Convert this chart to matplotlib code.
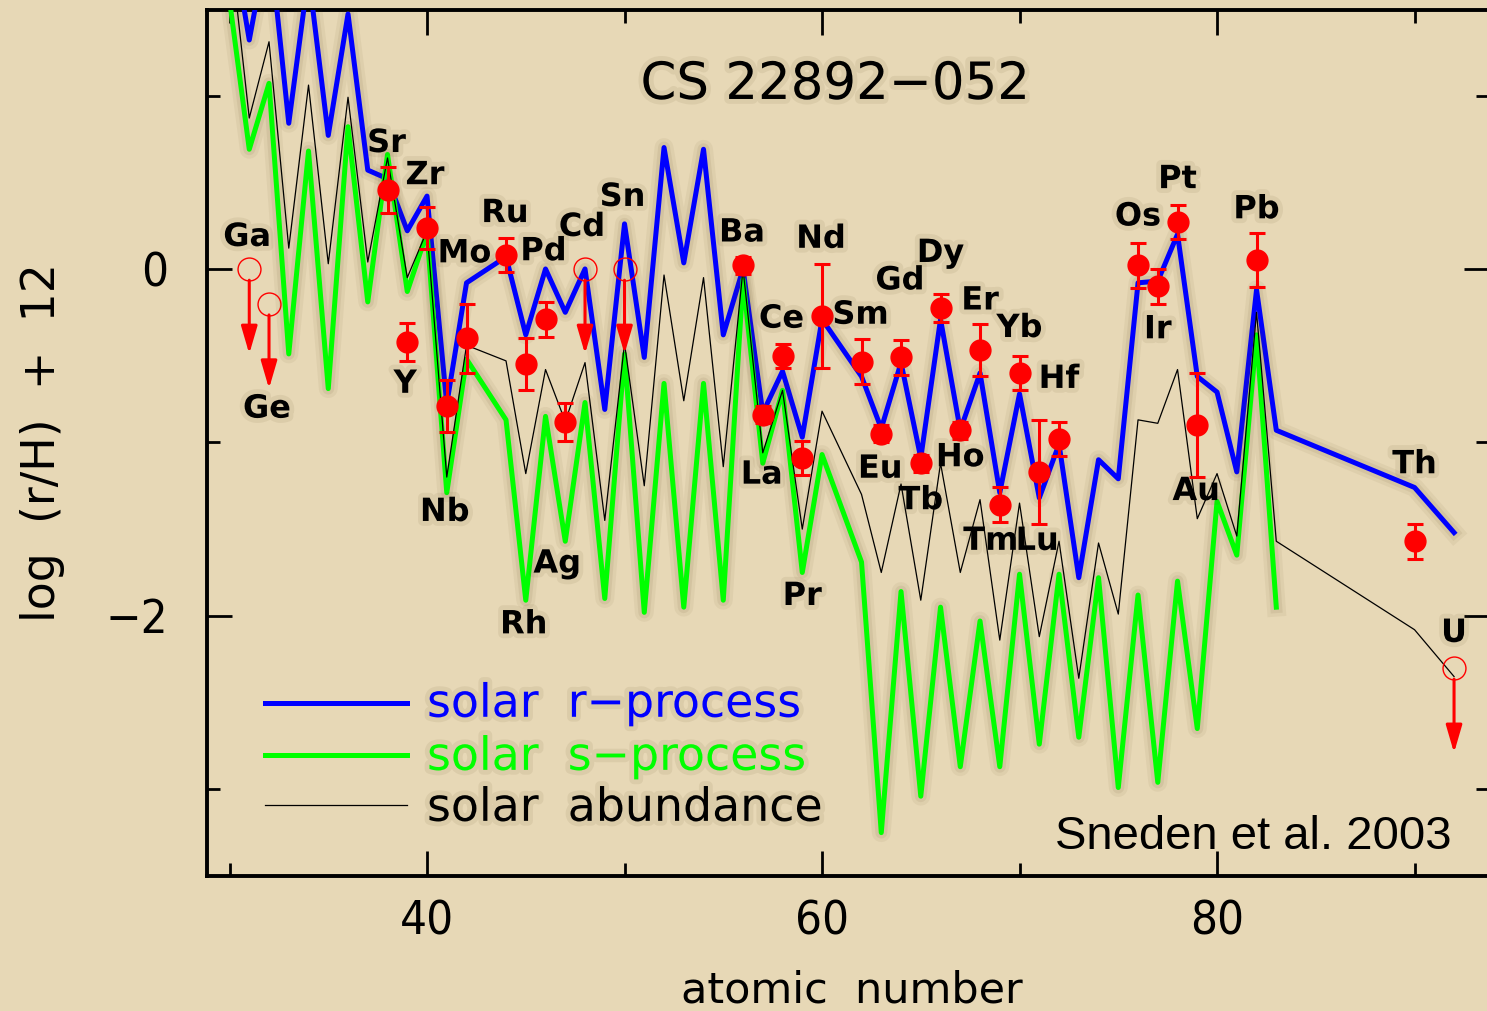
import matplotlib
matplotlib.use('Agg')
import matplotlib.pyplot as plt
import matplotlib.patheffects as pe
from matplotlib.ticker import MultipleLocator

# atomic numbers of the solar curves (Tc and Pm are skipped)
r_z = list(range(30, 43)) + list(range(44, 61)) + list(range(62, 84)) + [90, 92]
s_z = list(range(30, 43)) + list(range(44, 61)) + list(range(62, 84))

# solar r-process (blue)
r_val = [2.0, 1.32, 1.93, 0.84, 1.7, 0.77, 1.47, 0.57, 0.52, 0.22, 0.42, -0.78, -0.08,
         0.07, -0.38, 0.0, -0.25, 0.0, -0.81, 0.26, -0.51, 0.70, 0.035, 0.69, -0.38, 0.0,
         -0.83, -0.59, -0.97, -0.29,
         -0.62, -0.92, -0.54, -1.09, -0.29, -0.93, -0.60, -1.29, -0.72, -1.32, -1.01, -1.78,
         -1.10, -1.21, -0.08, -0.07, 0.20, -0.62, -0.71, -1.17, -0.12, -0.93,
         -1.26, -1.52]

# solar s-process (green)
s_val = [1.55, 0.69, 1.07, -0.49, 0.68, -0.69, 0.82, -0.19, 0.66, -0.13, 0.21, -1.29, -0.52,
         -0.87, -1.91, -0.85, -1.57, -0.77, -1.90, -0.49, -1.98, -0.66, -1.95, -0.66, -1.91,
         -0.06, -1.12, -0.70, -1.75, -1.07,
         -1.69, -3.25, -1.86, -3.04, -1.95, -2.87, -2.03, -2.87, -1.76, -2.74, -1.76, -2.70,
         -1.78, -2.99, -1.88, -2.96, -1.80, -2.65, -1.34, -1.65, -0.38, -1.95]

# total solar abundance (thin black)
sol_val = [1.90, 0.87, 1.31, 0.12, 1.06, 0.03, 0.99, 0.04, 0.64, -0.05, 0.22, -1.20, -0.44,
           -0.53, -1.18, -0.58, -0.88, -0.54, -1.45, -0.43, -1.25, -0.035, -0.76, -0.05, -1.14,
           0.0, -1.06, -0.70, -1.50, -0.82,
           -1.30, -1.75, -1.24, -1.91, -1.12, -1.75, -1.33, -2.14, -1.35, -2.12, -1.57, -2.36,
           -1.58, -1.99, -0.87, -0.89, -0.58, -1.44, -1.18, -1.54, -0.25, -1.57,
           -2.08, -2.35]

# CS 22892-052 measurements
obs_el = ['Sr', 'Y', 'Zr', 'Nb', 'Mo', 'Ru', 'Rh', 'Pd', 'Ag', 'Ba', 'La', 'Ce', 'Pr', 'Nd',
          'Sm', 'Eu', 'Gd', 'Tb', 'Dy', 'Ho', 'Er', 'Tm', 'Yb', 'Lu', 'Hf', 'Os', 'Ir', 'Pt',
          'Au', 'Pb', 'Th']
obs_z = [38, 39, 40, 41, 42, 44, 45, 46, 47, 56, 57, 58, 59, 60, 62, 63, 64, 65, 66, 67, 68,
         69, 70, 71, 72, 76, 77, 78, 79, 82, 90]
obs_val = [0.455, -0.42, 0.235, -0.79, -0.40, 0.08, -0.55, -0.29, -0.88, 0.02, -0.84, -0.50,
           -1.09, -0.27, -0.535, -0.95, -0.51, -1.12, -0.225, -0.93, -0.47, -1.36, -0.60,
           -1.17, -0.98, 0.02, -0.10, 0.27, -0.90, 0.05, -1.57]
obs_err = [0.13, 0.11, 0.12, 0.15, 0.20, 0.10, 0.15, 0.10, 0.11, 0.05, 0.05, 0.07, 0.10, 0.30,
           0.13, 0.05, 0.10, 0.05, 0.08, 0.05, 0.15, 0.10, 0.10, 0.30, 0.10, 0.13, 0.10, 0.10,
           0.30, 0.155, 0.10]

# upper limits
lim_el = ['Ga', 'Ge', 'Cd', 'Sn', 'U']
lim_z = [31, 32, 48, 50, 92]
lim_val = [0.0, -0.20, 0.0, 0.0, -2.30]

# where each element name sits relative to its point (pixels)
label_off = {'Ga': (-2, 35), 'Ge': (-2, -102), 'Sr': (-1, 50), 'Zr': (-2, 56), 'Y': (-2, -39),
             'Mo': (-2, 88), 'Nb': (-2, -103), 'Ru': (-1, 45), 'Pd': (-2, 71), 'Rh': (-2, -257),
             'Ag': (-8, -139), 'Cd': (-3, 45), 'Sn': (-2, 75), 'Ba': (-1, 36), 'La': (-1, -57),
             'Ce': (-1, 40), 'Pr': (0, -135), 'Nd': (-1, 80), 'Sm': (-1, 50), 'Eu': (-1, -32),
             'Gd': (-1, 80), 'Tb': (0, -34), 'Dy': (0, 58), 'Ho': (0, -24), 'Er': (0, 53),
             'Yb': (0, 48), 'Tm': (-9, -33), 'Lu': (-2, -66), 'Hf': (0, 63), 'Os': (0, 52),
             'Pt': (0, 46), 'Ir': (0, -40), 'Au': (-1, -63), 'Pb': (0, 54), 'Th': (0, 80),
             'U': (0, 38)}

bg = '#e7d8b6'
shade = (0.35, 0.25, 0.1)
line_fx = lambda lw: [pe.Stroke(linewidth=lw + 10, foreground=shade, alpha=0.06),
                      pe.Stroke(linewidth=lw + 5, foreground=shade, alpha=0.08), pe.Normal()]
text_fx = [pe.Stroke(linewidth=7, foreground=shade, alpha=0.08), pe.Normal()]

fig = plt.figure(figsize=(14.87, 10.11), dpi=100, facecolor=bg)
ax = fig.add_axes([207 / 1487, 135 / 1011, 1282 / 1487, 866 / 1011])
ax.set_facecolor(bg)

ax.plot(r_z, r_val, color='#0000ff', lw=3.6, path_effects=line_fx(3.6), zorder=3)
ax.plot(s_z, s_val, color='#00ff00', lw=3.6, path_effects=line_fx(3.6), zorder=3)
ax.plot(r_z, sol_val, color='black', lw=0.9, zorder=4)

ax.errorbar(obs_z, obs_val, yerr=obs_err, fmt='o', color='red', ms=15, elinewidth=2.2,
            capsize=6, capthick=2.2, zorder=6)
ax.plot(lim_z, lim_val, 'o', ms=16.5, mfc='none', mec='red', mew=1, zorder=6)
for z, v in zip(lim_z, lim_val):
    ax.annotate('', xy=(z, v - 0.49), xytext=(z, v - 0.065),
                arrowprops=dict(arrowstyle='-|>,head_length=1.2,head_width=0.35', color='red',
                                lw=2.2, mutation_scale=14, shrinkA=0, shrinkB=0), zorder=6)

for el, z, v in zip(obs_el + lim_el, obs_z + lim_z, obs_val + lim_val):
    dx, dy = label_off[el]
    ax.annotate(el, xy=(z, v), xytext=(dx, dy), textcoords='offset pixels', ha='center',
                va='center_baseline', fontsize=23, fontweight='bold', zorder=7,
                path_effects=text_fx)

ax.text(60.66, 0.98, 'CS 22892\u2212052', fontsize=37, ha='center', va='baseline',
        path_effects=text_fx)

# legend keys drawn by hand
leg_text = ['solar  r\u2212process', 'solar  s\u2212process', 'solar  abundance']
leg_col = ['#0000ff', '#00ff00', 'black']
leg_lw = [3.6, 3.6, 0.9]
leg_y = [-2.50, -2.80, -3.09]
leg_base = [-2.582, -2.888, -3.182]
for t, c, lw, y, yb in zip(leg_text, leg_col, leg_lw, leg_y, leg_base):
    ax.plot([31.8, 39.0], [y, y], color=c, lw=lw, zorder=5)
    ax.text(40.0, yb, t, color=c, fontsize=33, ha='left', va='baseline', path_effects=text_fx)

ax.text(91.87, -3.343, 'Sneden et al. 2003', fontsize=34, family='Liberation Sans',
        ha='right', va='baseline')

ax.set_xlim(28.86, 93.77)
ax.set_ylim(-3.5, 1.493)
ax.set_xticks([40, 60, 80], labels=['40', '60', '80'], fontsize=34, fontstretch='condensed')
ax.set_yticks([-2, 0], labels=['\u22122', '0'], fontsize=34, fontstretch='condensed')
ax.xaxis.set_minor_locator(MultipleLocator(10))
ax.yaxis.set_minor_locator(MultipleLocator(1))
ax.tick_params(which='both', direction='in', top=True, right=True, width=2)
ax.tick_params(which='major', length=18)
ax.tick_params(which='minor', length=9.5)
ax.tick_params(axis='x', pad=17)
ax.tick_params(axis='y', pad=28)
for s in ax.spines.values():
    s.set_linewidth(2.8)

ax.set_xlabel('atomic  number', fontsize=31, va='baseline')
ax.xaxis.set_label_coords(0.503, -0.1455)
ax.set_ylabel('log  (r/H)  +  12', fontsize=33, va='baseline', rotation_mode='anchor')
ax.yaxis.set_label_coords(-0.1186, 0.5)

fig.savefig('out.png', dpi=100, facecolor=bg)
